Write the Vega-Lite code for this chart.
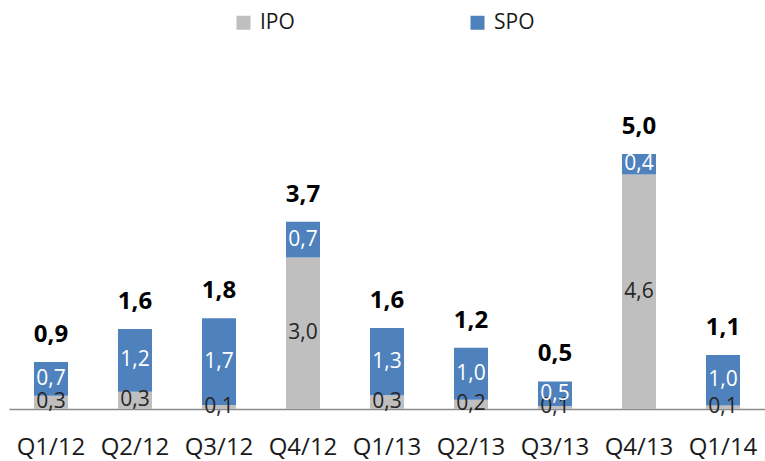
{
  "$schema": "https://vega.github.io/schema/vega-lite/v6.json",
  "width": 756,
  "height": 306,
  "autosize": {"type": "none"},
  "padding": {"left": 9, "top": 103, "right": 0, "bottom": 52},
  "background": "white",
  "data": {"values": [
    {"q": "Q1/12", "series": "IPO", "value": 0.26},
    {"q": "Q1/12", "series": "SPO", "value": 0.66},
    {"q": "Q2/12", "series": "IPO", "value": 0.34},
    {"q": "Q2/12", "series": "SPO", "value": 1.23},
    {"q": "Q3/12", "series": "IPO", "value": 0.08},
    {"q": "Q3/12", "series": "SPO", "value": 1.70},
    {"q": "Q4/12", "series": "IPO", "value": 2.97},
    {"q": "Q4/12", "series": "SPO", "value": 0.70},
    {"q": "Q1/13", "series": "IPO", "value": 0.27},
    {"q": "Q1/13", "series": "SPO", "value": 1.32},
    {"q": "Q2/13", "series": "IPO", "value": 0.18},
    {"q": "Q2/13", "series": "SPO", "value": 1.02},
    {"q": "Q3/13", "series": "IPO", "value": 0.06},
    {"q": "Q3/13", "series": "SPO", "value": 0.48},
    {"q": "Q4/13", "series": "IPO", "value": 4.60},
    {"q": "Q4/13", "series": "SPO", "value": 0.40},
    {"q": "Q1/14", "series": "IPO", "value": 0.07},
    {"q": "Q1/14", "series": "SPO", "value": 0.99}
  ]},
  "transform": [
    {"stack": "value", "groupby": ["q"], "sort": [{"field": "series", "order": "ascending"}], "as": ["v0", "v1"]},
    {"calculate": "(datum.v0 + datum.v1) / 2", "as": "mid"}
  ],
  "encoding": {
    "x": {
      "field": "q", "type": "nominal", "sort": null, "title": null,
      "scale": {"paddingInner": 0.595, "paddingOuter": 0.2975},
      "axis": {
        "labelAngle": 0, "ticks": false, "domain": true, "domainColor": "#8c8c8c", "domainWidth": 1.5,
        "labelFont": "Open Sans", "labelFontSize": 24, "labelColor": "#1a1a1a", "labelPadding": 26, "grid": false
      }
    }
  },
  "layer": [
    {
      "mark": {"type": "bar"},
      "encoding": {
        "y": {"field": "v0", "type": "quantitative", "scale": {"domain": [0, 6]}, "axis": null},
        "y2": {"field": "v1"},
        "color": {
          "field": "series", "type": "nominal", "title": null,
          "scale": {"domain": ["IPO", "SPO"], "range": ["#bfbfbf", "#4f81bd"]},
          "legend": {
            "orient": "none", "direction": "horizontal", "legendX": 224, "legendY": -91,
            "symbolType": "square", "symbolSize": 196, "symbolStrokeWidth": 0, "symbolOpacity": 1,
            "labelFont": "Open Sans", "labelFontSize": 21, "labelColor": "#1a1a1a", "labelOffset": 6,
            "columnPadding": 172, "padding": 0
          }
        }
      }
    },
    {
      "transform": [{"filter": "datum.series === 'IPO'"}],
      "mark": {"type": "text", "font": "Open Sans", "fontSize": 21, "color": "#262626", "baseline": "middle"},
      "encoding": {
        "y": {"field": "mid", "type": "quantitative"},
        "text": {"field": "value", "type": "quantitative", "format": ".1f"}
      }
    },
    {
      "transform": [{"filter": "datum.series === 'SPO'"}],
      "mark": {"type": "text", "font": "Open Sans", "fontSize": 21, "color": "#ffffff", "baseline": "middle"},
      "encoding": {
        "y": {"field": "mid", "type": "quantitative"},
        "text": {"field": "value", "type": "quantitative", "format": ".1f"}
      }
    },
    {
      "mark": {"type": "text", "font": "Open Sans", "fontSize": 24, "fontWeight": "bold", "color": "#000000", "baseline": "alphabetic", "dy": -20},
      "encoding": {
        "y": {"aggregate": "sum", "field": "value", "type": "quantitative"},
        "text": {"aggregate": "sum", "field": "value", "type": "quantitative", "format": ".1f"}
      }
    }
  ],
  "config": {
    "view": {"stroke": null},
    "locale": {"number": {"decimal": ",", "thousands": " ", "grouping": [3], "currency": ["", " €"]}}
  }
}
